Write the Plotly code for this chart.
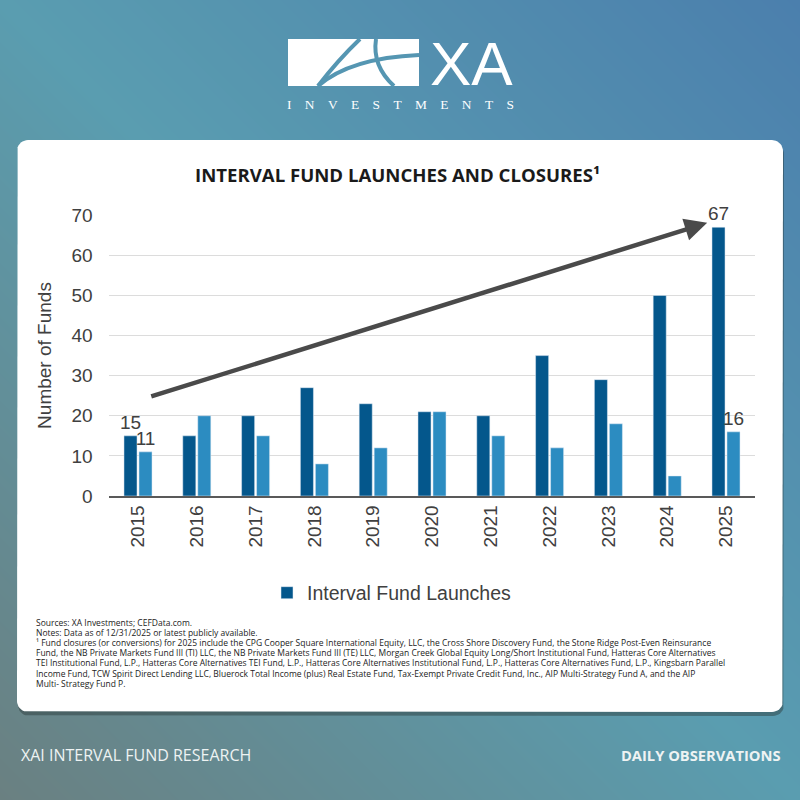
import numpy as np
import plotly.graph_objects as go

# Interval fund launches vs. closures per year
YEARS = ["2015", "2016", "2017", "2018", "2019", "2020",
         "2021", "2022", "2023", "2024", "2025"]
LAUNCHES = [15, 15, 20, 27, 23, 21, 20, 35, 29, 50, 67]
CLOSURES = [11, 20, 15, 8, 12, 21, 15, 12, 18, 5, 16]
Y_TICKS = [0, 10, 20, 30, 40, 50, 60, 70]

TITLE = "INTERVAL FUND LAUNCHES AND CLOSURES¹"
NOTES = [
    "Sources: XA Investments; CEFData.com.",
    "Notes: Data as of 12/31/2025 or latest publicly available.",
    "¹ Fund closures (or conversions) for 2025 include the CPG Cooper Square International Equity, LLC, the Cross Shore Discovery Fund, the Stone Ridge Post-Even Reinsurance",
    "Fund, the NB Private Markets Fund III (TI) LLC, the NB Private Markets Fund III (TE) LLC, Morgan Creek Global Equity Long/Short Institutional Fund, Hatteras Core Alternatives",
    "TEI Institutional Fund, L.P., Hatteras Core Alternatives TEI Fund, L.P., Hatteras Core Alternatives Institutional Fund, L.P., Hatteras Core Alternatives Fund, L.P., Kingsbarn Parallel",
    "Income Fund, TCW Spirit Direct Lending LLC, Bluerock Total Income (plus) Real Estate Fund, Tax-Exempt Private Credit Fund, Inc., AIP Multi-Strategy Fund A, and the AIP",
    "Multi- Strategy Fund P.",
]

W = H = 800
DARK = "#04578c"
LIGHT = "#2c8cc1"
INK = "#404040"
ARROW = "#4a4a4a"
LOGO_BG = "#5596b2"
CHART_FONT = "Liberation Sans, Arial, sans-serif"
BRAND_FONT = "Open Sans, Lato, sans-serif"


def px(x):
    return x / W


def py(y):
    return 1 - y / H


def ends(vals):
    # only the first and last bar carry a value label
    return [str(v) if i in (0, len(vals) - 1) else "" for i, v in enumerate(vals)]


def rounded_rect(x0, y0, x1, y1, r):
    # outline of a rounded rectangle, pixel coords -> paper coords
    pts = []
    for cx, cy, a0 in [(x1 - r, y0 + r, -90), (x1 - r, y1 - r, 0),
                       (x0 + r, y1 - r, 90), (x0 + r, y0 + r, 180)]:
        a = np.radians(np.linspace(a0, a0 + 90, 10))
        pts += [(cx + r * np.cos(t), cy + r * np.sin(t)) for t in a]
    pts.append(pts[0])
    return [px(p[0]) for p in pts], [py(p[1]) for p in pts]


fig = go.Figure()

# page background: diagonal teal/grey -> blue gradient
fig.add_trace(go.Heatmap(
    x=[0, 1], y=[0, 1], z=[[0, 0.5], [0.5, 1]], zsmooth="best",
    colorscale=[[0, "#6a8081"], [0.5, "#5a9db0"], [1, "#4b7fad"]],
    showscale=False, hoverinfo="skip", xaxis="x", yaxis="y"))

# white card with a soft shadow
sx, sy = rounded_rect(18, 143, 784, 716, 11)
fig.add_trace(go.Scatter(x=sx, y=sy, mode="lines", fill="toself",
                         fillcolor="rgba(40,55,55,0.45)", line=dict(width=0),
                         hoverinfo="skip", showlegend=False, xaxis="x", yaxis="y"))
cx, cy = rounded_rect(17, 140, 783, 712, 11)
fig.add_trace(go.Scatter(x=cx, y=cy, mode="lines", fill="toself",
                         fillcolor="white", line=dict(width=0),
                         hoverinfo="skip", showlegend=False, xaxis="x", yaxis="y"))

fig.add_trace(go.Bar(
    x=YEARS, y=LAUNCHES, name="Interval Fund Launches", marker_color=DARK,
    text=ends(LAUNCHES), textposition="outside", constraintext="none",
    textfont=dict(size=19, color=INK, family=CHART_FONT), cliponaxis=False,
    xaxis="x2", yaxis="y2"))
fig.add_trace(go.Bar(
    x=YEARS, y=CLOSURES, name="Interval Fund Closures", marker_color=LIGHT,
    text=ends(CLOSURES), textposition="outside", constraintext="none",
    textfont=dict(size=19, color=INK, family=CHART_FONT), cliponaxis=False,
    showlegend=False, xaxis="x2", yaxis="y2"))

fig.update_layout(
    width=W, height=H, margin=dict(l=0, r=0, t=0, b=0, autoexpand=False),
    paper_bgcolor="white", plot_bgcolor="rgba(0,0,0,0)",
    font=dict(family=CHART_FONT, color=INK),
    barmode="group", bargap=0.49, bargroupgap=0.13,
    xaxis=dict(domain=[0, 1], range=[0, 1], visible=False, fixedrange=True),
    yaxis=dict(domain=[0, 1], range=[0, 1], visible=False, fixedrange=True),
    xaxis2=dict(domain=[px(108.6), px(755.4)], anchor="y2", type="category",
                tickangle=-90, tickfont=dict(size=19, color=INK),
                showgrid=False, zeroline=False, ticks="",
                showline=True, linecolor="#595959", linewidth=1.5),
    yaxis2=dict(domain=[py(496), py(215)], anchor="x2", range=[0, 70.05],
                tickvals=Y_TICKS, tickfont=dict(size=19, color=INK),
                gridcolor="#dcdcdc", gridwidth=1, zeroline=False, showline=False,
                ticklabelstandoff=15,
                title=dict(text="Number of Funds", font=dict(size=19, color=INK),
                           standoff=14)),
    legend=dict(orientation="h", x=0.49, xanchor="center", y=py(593),
                yanchor="middle", font=dict(size=19.5, color=INK),
                bgcolor="rgba(0,0,0,0)"),
)

# trend arrow across the launches
fig.add_annotation(x=9.68, y=68.1, ax=0.2, ay=24.7, xref="x2", yref="y2",
                   axref="x2", ayref="y2", text="", showarrow=True,
                   arrowhead=2, arrowsize=1, arrowwidth=4.5, arrowcolor=ARROW)

fig.add_annotation(x=px(397), y=py(174), xref="paper", yref="paper",
                   text=TITLE, showarrow=False, xanchor="center", yanchor="middle",
                   font=dict(family=BRAND_FONT, size=18.6, weight=700, color="#1a1a1a"))

for i, line in enumerate(NOTES):
    fig.add_annotation(x=px(35), y=py(622 + i * 10.2), xref="paper", yref="paper",
                       text=line, showarrow=False, xanchor="left", yanchor="middle",
                       borderpad=0,
                       font=dict(family=BRAND_FONT, size=8.5, color="#222222"))

fig.add_annotation(x=px(19), y=py(755), xref="paper", yref="paper",
                   text="XAI INTERVAL FUND RESEARCH", showarrow=False,
                   xanchor="left", yanchor="middle",
                   font=dict(family=BRAND_FONT, size=16, color="#eef3f3"))
fig.add_annotation(x=px(782), y=py(755), xref="paper", yref="paper",
                   text="DAILY OBSERVATIONS", showarrow=False,
                   xanchor="right", yanchor="middle",
                   font=dict(family=BRAND_FONT, size=14.7, weight=700, color="#eef3f3"))

# XA Investments logo
logo = [
    dict(type="rect", x0=px(288), x1=px(419), y0=py(86), y1=py(39),
         fillcolor="white", line=dict(width=0)),
    dict(type="path", path=f"M {px(360)},{py(39)} Q {px(338)},{py(60)} {px(318)},{py(86)}",
         line=dict(color=LOGO_BG, width=4)),
    dict(type="path", path=f"M {px(318)},{py(86)} Q {px(350)},{py(58)} {px(419)},{py(55)}",
         line=dict(color=LOGO_BG, width=4)),
    dict(type="path", path=f"M {px(376)},{py(39)} Q {px(372)},{py(66)} {px(394)},{py(86)}",
         line=dict(color=LOGO_BG, width=4)),
]
for s in logo:
    fig.add_shape(xref="paper", yref="paper", layer="above", **s)

fig.add_annotation(x=px(471), y=py(63), xref="paper", yref="paper", text="XA",
                   showarrow=False, xanchor="center", yanchor="middle", height=50,
                   font=dict(family="Liberation Sans Narrow, Liberation Sans, sans-serif",
                             size=62, color="white"))
fig.add_annotation(x=px(400), y=py(104), xref="paper", yref="paper",
                   text="\u2003".join("INVESTMENTS"), showarrow=False,
                   xanchor="center", yanchor="middle",
                   font=dict(family="Liberation Serif, serif", size=13.4, color="white"))

fig.write_html("out.html", config={"displayModeBar": False},
               post_script="document.body.style.margin='0';")
